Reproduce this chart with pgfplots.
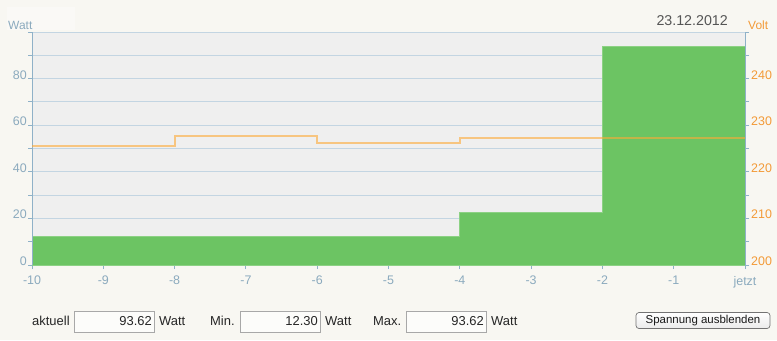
\documentclass[border=0pt]{standalone}
\usepackage{pgfplots}
\pgfplotsset{compat=1.18}
\usepackage{fontspec}
\setmainfont{Liberation Sans}
\definecolor{bg}{HTML}{F8F7F2}
\definecolor{plotbg}{HTML}{EFEFEF}
\definecolor{gridblue}{HTML}{C3D5E2}
\definecolor{axisblue}{HTML}{8FB1C8}
\definecolor{ticklab}{HTML}{8BAABE}
\definecolor{barfill}{HTML}{6CC463}
\definecolor{baredge}{HTML}{8CD184}
\definecolor{voltline}{RGB}{253,170,55}
\definecolor{voltlab}{HTML}{F39A37}
\definecolor{datecol}{HTML}{555555}
\definecolor{boxedge}{HTML}{A8A8A8}

\pgfplotstableread{
x w
-10 12.30
-4 22.50
-2 93.62
0 93.62
}\watt
\pgfplotstableread{
x v
-10 225.6
-8 227.6
-6 226.2
-4 227.3
0 227.3
}\volt

\begin{document}
\begin{tikzpicture}[x=1bp,y=1bp]
\fill[bg] (0,0) rectangle (777,340);
\useasboundingbox (0,0) rectangle (777,340);
\fill[white,opacity=0.35] (7,310) rectangle (75,333);

\begin{axis}[
  at={(32bp,75bp)}, anchor=south west,
  scale only axis, width=713bp, height=233bp,
  xmin=-10, xmax=0, ymin=0, ymax=100,
  axis background/.style={fill=plotbg},
  axis x line*=bottom, axis y line*=left,
  axis line style={draw=axisblue, line width=0.9bp},
  xtick={-10,-9,...,0},
  xticklabels={-10,-9,-8,-7,-6,-5,-4,-3,-2,-1,jetzt},
  ytick={0,10,...,100},
  yticklabels={0,,20,,40,,60,,80,,},
  ymajorgrids,
  grid style={draw=gridblue, line width=0.8bp},
  tick align=outside,
  major tick length=4bp,
  tick style={draw=axisblue, line width=0.9bp},
  every tick label/.append style={font=\fontsize{12.5}{14}\selectfont, text=ticklab},
  yticklabel style={anchor=base east, inner sep=0pt, xshift=-1bp, yshift=-0.5bp},
  xticklabel style={anchor=north, inner sep=0pt, yshift=-7bp},
  /pgf/number format/assume math mode=true,
  clip=false,
]
\addplot[const plot, fill=barfill, draw=baredge, line width=0.8bp] table[x=x,y=w] {\watt} \closedcycle;
\draw[axisblue, line width=0.9bp] (axis cs:-10,0) -- (axis cs:-10,100);
\end{axis}

\begin{axis}[
  at={(32bp,75bp)}, anchor=south west,
  scale only axis, width=713bp, height=233bp,
  xmin=-10, xmax=0, ymin=200, ymax=250,
  axis x line=none, axis y line*=right,
  axis line style={draw=axisblue, line width=0.9bp},
  ytick={200,205,...,250},
  yticklabels={200,,210,,220,,230,,240,,},
  tick align=outside,
  major tick length=4bp,
  tick style={draw=axisblue, line width=0.9bp},
  yticklabel style={font=\fontsize{12.5}{14}\selectfont, text=voltlab, anchor=base west, inner sep=0pt, xshift=2bp, yshift=-0.5bp},
  /pgf/number format/assume math mode=true,
]
\addplot[const plot, draw=voltline, opacity=0.6, line width=2bp] table[x=x,y=v] {\volt};
\end{axis}

% titles
\node[anchor=base west, inner sep=0pt, text=ticklab, font=\fontsize{12}{14}\selectfont] at (8,311) {Watt};
\node[anchor=base west, inner sep=0pt, text=voltlab, font=\fontsize{12}{14}\selectfont] at (748,311) {Volt};
\node[anchor=base east, inner sep=0pt, text=datecol, font=\fontsize{14.3}{16}\selectfont] at (728,314.5) {23.12.2012};

% bottom controls
\begin{scope}[every node/.style={inner sep=0pt, font=\fontsize{13}{15}\selectfont, text=black!85}]
\node[anchor=base west] at (32,15) {aktuell};
\draw[boxedge, fill=white!60!bg, line width=0.8bp] (74.5,8) rectangle (154.5,29);
\node[anchor=base east] at (152,15) {93.62};
\node[anchor=base west] at (159,15) {Watt};

\node[anchor=base west] at (210,15) {Min.};
\draw[boxedge, fill=white!60!bg, line width=0.8bp] (240,8) rectangle (320,29);
\node[anchor=base east] at (318,15) {12.30};
\node[anchor=base west] at (325,15) {Watt};

\node[anchor=base west] at (373,15) {Max.};
\draw[boxedge, fill=white!60!bg, line width=0.8bp] (406,8) rectangle (486,29);
\node[anchor=base east] at (484,15) {93.62};
\node[anchor=base west] at (491,15) {Watt};
\end{scope}

\draw[black!55, top color=white, bottom color=black!8, rounded corners=3bp, line width=0.7bp] (636,11.5) rectangle (770,27.5);
\node[inner sep=0pt, font=\fontsize{11.5}{13}\selectfont, text=black!90] at (703,19.5) {Spannung ausblenden};
\end{tikzpicture}
\end{document}
